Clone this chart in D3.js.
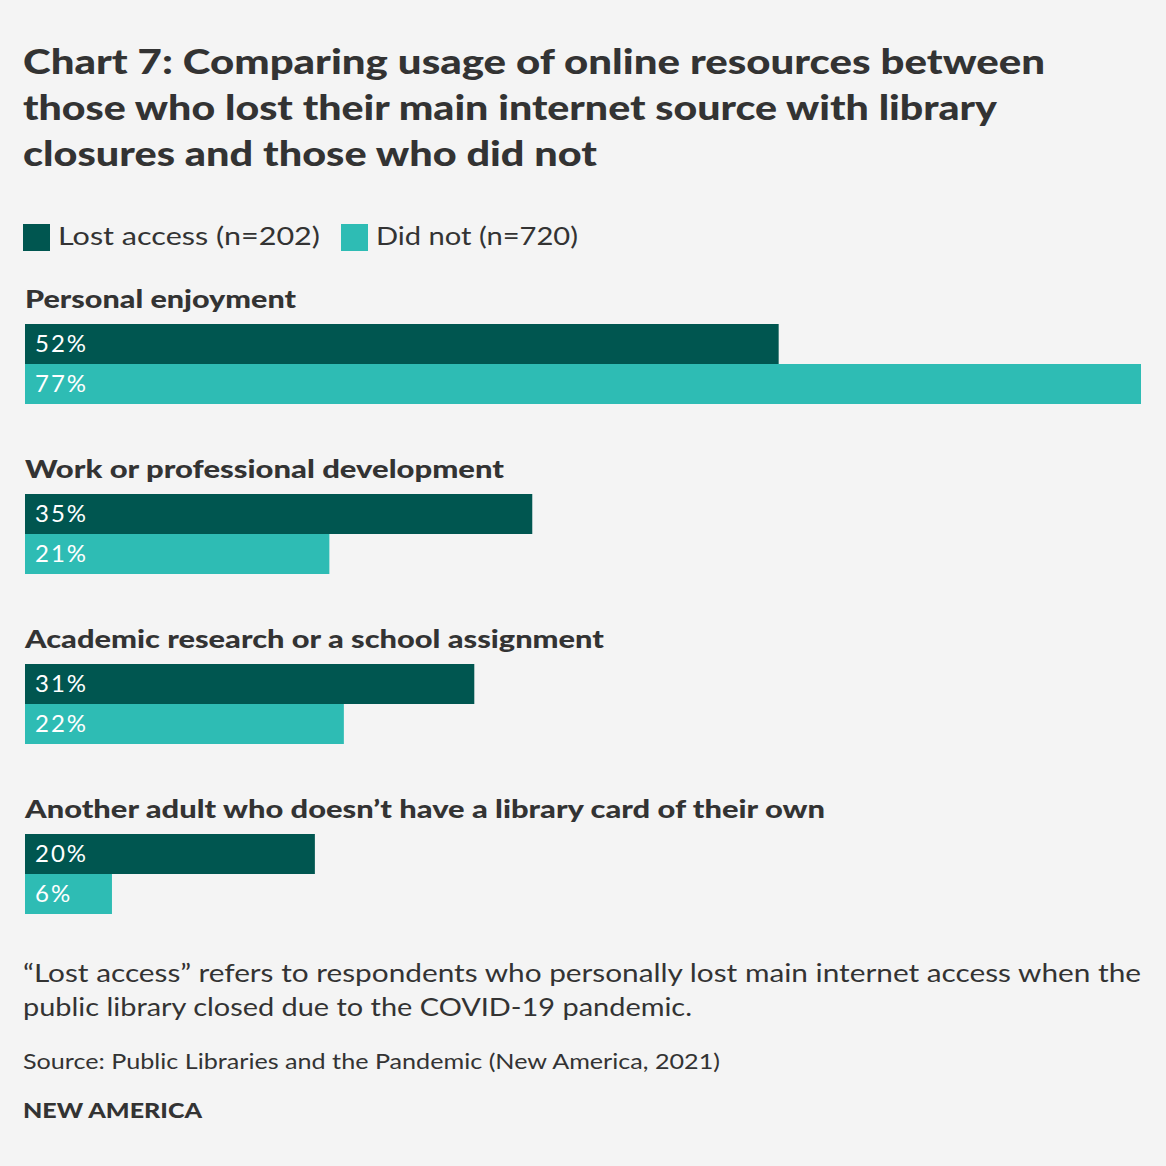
<!DOCTYPE html>
<html>
<head>
<meta charset="utf-8">
<script src="https://d3js.org/d3.v7.min.js"></script>
<style>
  html, body { margin: 0; padding: 0; background: #f4f4f4; }
  svg { display: block; font-family: Lato, "Open Sans", sans-serif; }
</style>
</head>
<body>
<script>
// chart data
var categories = [
  'Personal enjoyment',
  'Work or professional development',
  'Academic research or a school assignment',
  'Another adult who doesn\u2019t have a library card of their own'
];
var seriesNames = ['Lost access (n=202)', 'Did not (n=720)'];
var lostAccess = [52, 35, 31, 20];
var didNot = [77, 21, 22, 6];

var titleLines = [
  'Chart 7: Comparing usage of online resources between',
  'those who lost their main internet source with library',
  'closures and those who did not'
];
var noteLines = [
  '\u201cLost access\u201d refers to respondents who personally lost main internet access when the',
  'public library closed due to the COVID-19 pandemic.'
];
var sourceText = 'Source: Public Libraries and the Pandemic (New America, 2021)';
var brandText = 'NEW AMERICA';

var W = 1166, H = 1166;
var dark = '#005650', light = '#2ebcb4', ink = '#333333';

var svg = d3.select('body').append('svg').attr('width', W).attr('height', H);
svg.append('rect').attr('width', W).attr('height', H).attr('fill', '#f4f4f4');

// title
var titleWidths = [1022, 974, 574];
svg.selectAll('.title').data(titleLines).enter().append('text')
  .attr('x', 23)
  .attr('y', function (d, i) { return 74 + i * 46; })
  .attr('textLength', function (d, i) { return titleWidths[i]; })
  .attr('lengthAdjust', 'spacingAndGlyphs')
  .attr('fill', ink)
  .style('font-size', '35px')
  .style('font-weight', 900)
  .text(function (d) { return d; });

// legend
var colors = [dark, light];
var legX = [23, 341], legTextW = [262, 202];
seriesNames.forEach(function (s, i) {
  svg.append('rect').attr('x', legX[i]).attr('y', 224).attr('width', 27).attr('height', 27).attr('fill', colors[i]);
  svg.append('text').attr('x', legX[i] + 35).attr('y', 245)
    .attr('textLength', legTextW[i]).attr('lengthAdjust', 'spacingAndGlyphs')
    .attr('fill', ink).style('font-size', '25px').text(s);
});

// bars
var x = d3.scaleLinear().domain([0, 77]).range([25, 1141]);
var groupY = d3.scaleBand().domain(categories).range([284, 964]).paddingInner(0).paddingOuter(0);
var sub = d3.scaleBand().domain([0, 1]).range([40, 120]);
var labelWidths = [271, 479, 579, 800];

var groups = svg.selectAll('.grp').data(categories).enter().append('g')
  .attr('transform', function (d) { return 'translate(0,' + groupY(d) + ')'; });

groups.append('text')
  .attr('x', 25).attr('y', 24)
  .attr('textLength', function (d, i) { return labelWidths[i]; })
  .attr('lengthAdjust', 'spacingAndGlyphs')
  .attr('fill', ink)
  .style('font-size', '24px').style('font-weight', 900)
  .text(function (d) { return d; });

groups.each(function (c, i) {
  var g = d3.select(this);
  var vals = [lostAccess[i], didNot[i]];
  vals.forEach(function (v, j) {
    g.append('rect')
      .attr('x', x(0)).attr('y', sub(j))
      .attr('width', x(v) - x(0)).attr('height', sub.bandwidth())
      .attr('fill', colors[j]);
    g.append('text')
      .attr('x', x(0) + 10).attr('y', sub(j) + 28)
      .attr('fill', '#ffffff')
      .style('font-size', '24px')
      .style('letter-spacing', '2px')
      .text(v + '%');
  });
});

// notes
var noteWidths = [1118, 669];
svg.selectAll('.note').data(noteLines).enter().append('text')
  .attr('x', 23)
  .attr('y', function (d, i) { return 982 + i * 34; })
  .attr('textLength', function (d, i) { return noteWidths[i]; })
  .attr('lengthAdjust', 'spacingAndGlyphs')
  .attr('fill', ink).style('font-size', '25px')
  .text(function (d) { return d; });

svg.append('text').attr('x', 23).attr('y', 1069)
  .attr('textLength', 697).attr('lengthAdjust', 'spacingAndGlyphs')
  .attr('fill', ink).style('font-size', '21px').text(sourceText);

svg.append('text').attr('x', 23).attr('y', 1118)
  .attr('textLength', 179).attr('lengthAdjust', 'spacingAndGlyphs')
  .attr('fill', ink).style('font-size', '21px').style('font-weight', 900).text(brandText);
</script>
</body>
</html>
